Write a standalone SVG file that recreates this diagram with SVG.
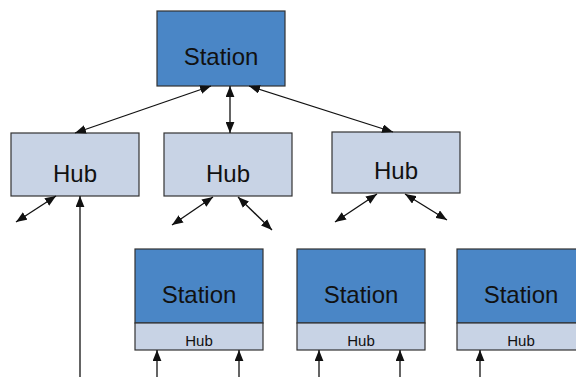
<svg xmlns="http://www.w3.org/2000/svg" width="576" height="377" viewBox="0 0 576 377">
<style>
.st{fill:#4a86c6;stroke:#333;stroke-width:1.2}
.hb{fill:#c8d3e5;stroke:#333;stroke-width:1.2}
.big{font-family:"Liberation Sans",Arial,sans-serif;font-size:24px;fill:#111;text-anchor:middle}
.sm{font-family:"Liberation Sans",Arial,sans-serif;font-size:15px;fill:#111;text-anchor:middle}
.c line{stroke:#111;stroke-width:1.3;fill:none}
</style>
<defs>
<marker id="ah" viewBox="0 0 10 8" refX="10" refY="4" markerWidth="11" markerHeight="9" markerUnits="userSpaceOnUse" orient="auto-start-reverse">
<path d="M0,0 L10,4 L0,8 Z" fill="#111"/>
</marker>
</defs>
<rect width="576" height="377" fill="#fff"/>
<g id="station-top"><rect class="st" x="157" y="11" width="128" height="75"/><text class="big" x="221" y="65">Station</text></g>
<g id="hub1"><rect class="hb" x="11" y="133" width="128" height="63"/><text class="big" x="75" y="182">Hub</text></g>
<g id="hub2"><rect class="hb" x="164" y="133" width="128" height="63"/><text class="big" x="228" y="182">Hub</text></g>
<g id="hub3"><rect class="hb" x="332" y="132" width="128" height="61"/><text class="big" x="396" y="179">Hub</text></g>
<g id="station1"><rect class="st" x="135" y="249" width="128" height="74"/><rect class="hb" x="135" y="323" width="128" height="27"/><text class="big" x="199" y="303">Station</text><text class="sm" x="199" y="346">Hub</text></g>
<g id="station2"><rect class="st" x="297" y="249" width="128" height="74"/><rect class="hb" x="297" y="323" width="128" height="27"/><text class="big" x="361" y="303">Station</text><text class="sm" x="361" y="346">Hub</text></g>
<g id="station3"><rect class="st" x="457" y="249" width="128" height="74"/><rect class="hb" x="457" y="323" width="128" height="27"/><text class="big" x="521" y="303">Station</text><text class="sm" x="521" y="346">Hub</text></g>
<g id="connectors" class="c">
<line x1="211" y1="86" x2="75" y2="133" marker-start="url(#ah)" marker-end="url(#ah)"/>
<line x1="230" y1="86" x2="230" y2="133" marker-start="url(#ah)" marker-end="url(#ah)"/>
<line x1="249" y1="86" x2="393" y2="132" marker-start="url(#ah)" marker-end="url(#ah)"/>
<line x1="56" y1="196" x2="16" y2="222" marker-start="url(#ah)" marker-end="url(#ah)"/>
<line x1="80" y1="377" x2="80" y2="196" marker-end="url(#ah)"/>
<line x1="213" y1="197" x2="172" y2="225" marker-start="url(#ah)" marker-end="url(#ah)"/>
<line x1="238" y1="197" x2="272" y2="230" marker-start="url(#ah)" marker-end="url(#ah)"/>
<line x1="377" y1="194" x2="335" y2="222" marker-start="url(#ah)" marker-end="url(#ah)"/>
<line x1="405" y1="194" x2="447" y2="220" marker-start="url(#ah)" marker-end="url(#ah)"/>
<line x1="157" y1="377" x2="157" y2="350" marker-end="url(#ah)"/>
<line x1="239" y1="377" x2="239" y2="350" marker-end="url(#ah)"/>
<line x1="319" y1="377" x2="319" y2="350" marker-end="url(#ah)"/>
<line x1="400" y1="377" x2="400" y2="350" marker-end="url(#ah)"/>
<line x1="480" y1="377" x2="480" y2="350" marker-end="url(#ah)"/>
</g>
</svg>
